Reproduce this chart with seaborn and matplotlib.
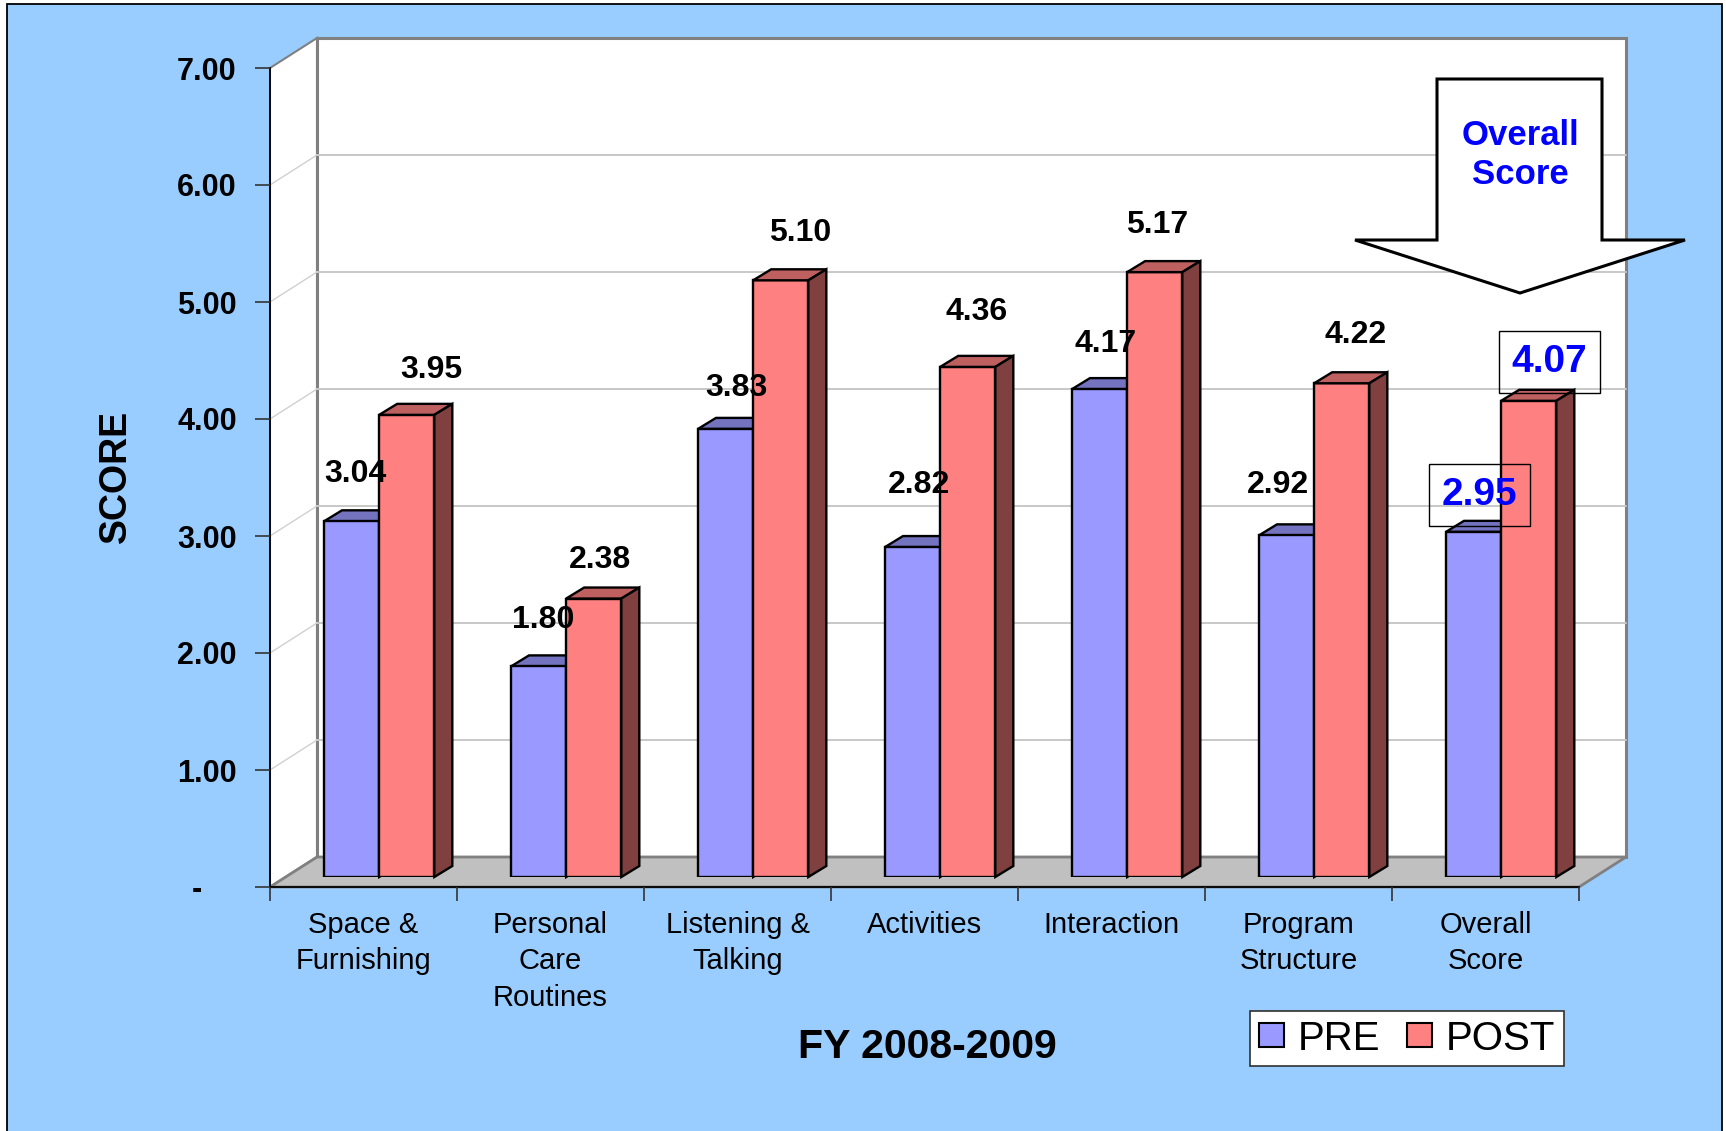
import numpy as np
import pandas as pd
import matplotlib
matplotlib.use("Agg")
import matplotlib.pyplot as plt
import seaborn as sns
from matplotlib.patches import Polygon, Rectangle, Patch

# ---------------- data ----------------
categories = ["Space &\nFurnishing", "Personal\nCare\nRoutines", "Listening &\nTalking",
              "Activities", "Interaction", "Program\nStructure", "Overall\nScore"]
series = ["PRE", "POST"]
pre_scores = [3.04, 1.80, 3.83, 2.82, 4.17, 2.92, 2.95]
post_scores = [3.95, 2.38, 5.10, 4.36, 5.17, 4.22, 4.07]
y_ticks = [0, 1, 2, 3, 4, 5, 6, 7]
y_tick_labels = ["-    ", "1.00", "2.00", "3.00", "4.00", "5.00", "6.00", "7.00"]
x_title = "FY 2008-2009"
y_title = "SCORE"
callout_text = "Overall\nScore"
highlight = "Overall\nScore"

# label nudges (pixels) relative to bar front-top centre
pre_label_dx = [4, 5, 11, 6, 6, -9, 6]
pre_label_dy = [47, 46, 41, 62, 45, 50, 37]
post_label_dx = [25, 6, 19, 9, 2, 14, 21]
post_label_dy = [45, 39, 47, 55, 47, 48, 39]

df = pd.DataFrame({
    "Category": categories * 2,
    "Period": ["PRE"] * len(categories) + ["POST"] * len(categories),
    "Score": pre_scores + post_scores,
})

# ---------------- style ----------------
sns.set_theme(style="white")
plt.rcParams["font.family"] = ["Liberation Sans", "DejaVu Sans"]
plt.rcParams["text.color"] = "black"
plt.rcParams["axes.labelcolor"] = "black"
plt.rcParams["xtick.color"] = "black"
plt.rcParams["ytick.color"] = "black"

W, H, DPI = 1726, 1131, 100
fig = plt.figure(figsize=(W / DPI, H / DPI), dpi=DPI, facecolor="white")


def fx(x):
    return x / W


def fy(y):
    return 1 - y / H


# outer blue chart area
fig.add_artist(Rectangle((fx(7), fy(1145)), fx(1722) - fx(7), fy(4) - fy(1145),
                         transform=fig.transFigure, fc="#99CCFF", ec="black",
                         lw=1.3, zorder=-10))

C_PRE, C_POST = "#9999FF", "#FF8080"
PX_X, PX_Y = 1309 / 7, 819 / 7          # pixels per data unit
DXB, DYB = 47 / PX_X, 30 / PX_Y          # back-wall depth in data units

# ---------------- main (front-plane) axes ----------------
ax = fig.add_axes([fx(270), fy(887), 1309 / W, 819 / H])
ax.set_facecolor("none")
ax.set_xlim(-0.5, 6.5)
ax.set_ylim(0, 7)

x0, x1 = -0.5, 6.5
# left wall
ax.add_patch(Polygon([(x0, 0), (x0 + DXB, DYB), (x0 + DXB, 7 + DYB), (x0, 7)],
                     closed=True, fc="white", ec="#808080", lw=1.5, clip_on=False, zorder=0.1))
# back wall
ax.add_patch(Rectangle((x0 + DXB, DYB), 7, 7, fc="white", ec="#808080", lw=2.2,
                       clip_on=False, zorder=0.1))
for k in y_ticks[1:-1]:
    ax.plot([x0 + DXB, x1 + DXB], [k + DYB, k + DYB], color="#C8C8C8", lw=1.4,
            clip_on=False, zorder=0.15)
    ax.plot([x0, x0 + DXB], [k, k + DYB], color="#D0D0D0", lw=1.0,
            clip_on=False, zorder=0.15)
# floor
ax.add_patch(Polygon([(x0, 0), (x1, 0), (x1 + DXB, DYB), (x0 + DXB, DYB)],
                     closed=True, fc="#C0C0C0", ec="#808080", lw=2, clip_on=False, zorder=0.2))

for s in ["top", "right"]:
    ax.spines[s].set_visible(False)
for s in ["left", "bottom"]:
    ax.spines[s].set_color("black")
    ax.spines[s].set_linewidth(1.3)
    ax.spines[s].set_zorder(0.5)

ax.set_yticks(y_ticks)
ax.set_yticklabels(y_tick_labels, fontsize=22, fontweight="bold", color="black")
ax.tick_params(axis="y", direction="out", length=11, width=1.2, color="#333333", pad=13, left=True)
ax.set_xticks(range(len(categories)))
ax.set_xticklabels(categories, fontsize=21, linespacing=1.4, color="black")
ax.tick_params(axis="x", which="major", length=0, pad=17, bottom=True)
ax.set_xticks(np.arange(-0.5, len(categories), 1.0), minor=True)
ax.tick_params(axis="x", which="minor", direction="out", length=10, width=1.2, color="#333333", bottom=True)
ax.set_xlabel("")
ax.set_ylabel(y_title, fontsize=27, fontweight="bold", color="black")
ax.yaxis.set_label_coords((134 - 270) / 1309, (887 - 476) / 819)

# ---------------- bar axes (bars sit slightly deeper) ----------------
bax = fig.add_axes([fx(270 + 47 / 3), fy(887 - 10), 1309 / W, 819 / H])
bax.set_facecolor("none")
sns.barplot(data=df, x="Category", y="Score", hue="Period", order=categories,
            hue_order=series, palette={"PRE": C_PRE, "POST": C_POST}, saturation=1,
            width=0.59, errorbar=None, edgecolor="black", linewidth=1.7,
            legend=False, ax=bax)
bax.set_xlim(-0.5, 6.5)
bax.set_ylim(0, 7)
bax.axis("off")

DDX, DDY = 18 / PX_X, 11 / PX_Y
faces = [("#7373BF", "#4D4D99", 0.9, pre_label_dx, pre_label_dy),
         ("#BF6060", "#804040", 1.1, post_label_dx, post_label_dy)]
hi = categories.index(highlight)
for cont, (top_c, side_c, z, ldx, ldy) in zip(bax.containers, faces):
    for i, rect in enumerate(cont):
        rect.set_zorder(1)
        bx0 = rect.get_x()
        bw = rect.get_width()
        h = rect.get_height()
        bx1 = bx0 + bw
        bax.add_patch(Polygon([(bx0, h), (bx1, h), (bx1 + DDX, h + DDY), (bx0 + DDX, h + DDY)],
                              closed=True, fc=top_c, ec="black", lw=1.7, zorder=z,
                              joinstyle="miter", clip_on=False))
        bax.add_patch(Polygon([(bx1, 0), (bx1, h), (bx1 + DDX, h + DDY), (bx1 + DDX, DDY)],
                              closed=True, fc=side_c, ec="black", lw=1.7, zorder=z,
                              joinstyle="miter", clip_on=False))
        if i == hi:
            bax.annotate(f"{h:.2f}", xy=(bx0 + bw / 2, h), xytext=(ldx[i], ldy[i]),
                         textcoords="offset pixels", ha="center", va="center",
                         fontsize=28, fontweight="bold", color="#0000FF", zorder=3,
                         bbox=dict(boxstyle="square,pad=0.33", fc="none", ec="black", lw=1.0),
                         annotation_clip=False)
        else:
            bax.annotate(f"{h:.2f}", xy=(bx0 + bw / 2, h), xytext=(ldx[i], ldy[i]),
                         textcoords="offset pixels", ha="center", va="center",
                         fontsize=23, fontweight="bold", color="black", zorder=3,
                         annotation_clip=False)

# ---------------- callout arrow ----------------
arrow_px = [(1437, 79), (1602, 79), (1602, 240), (1685, 240), (1520, 293),
            (1355, 240), (1437, 240)]
fig.add_artist(Polygon([(fx(x), fy(y)) for x, y in arrow_px], closed=True,
                       transform=fig.transFigure, fc="white", ec="black", lw=2.2,
                       joinstyle="miter", zorder=5))
fig.text(fx(1520), fy(155), callout_text, ha="center", va="center", fontsize=25,
         fontweight="bold", color="#0000FF", linespacing=1.2, zorder=6)

# ---------------- titles & legend ----------------
fig.text(fx(927), fy(1047), x_title, ha="center", va="center", fontsize=29.5,
         fontweight="bold", color="black")

handles = [Patch(fc=C_PRE, ec="black", lw=1.5), Patch(fc=C_POST, ec="black", lw=1.5)]
leg = fig.legend(handles, series, loc="center", bbox_to_anchor=(fx(1407), fy(1038.5)),
                 ncol=2, fontsize=29, frameon=True, fancybox=False, framealpha=1,
                 edgecolor="#303030", handlelength=0.62, handleheight=0.52,
                 handletextpad=0.35, columnspacing=0.65, borderpad=0.22,
                 borderaxespad=0)
leg.get_frame().set_linewidth(1.2)
leg.set_zorder(6)

fig.savefig("out.png", dpi=DPI, facecolor="white")
